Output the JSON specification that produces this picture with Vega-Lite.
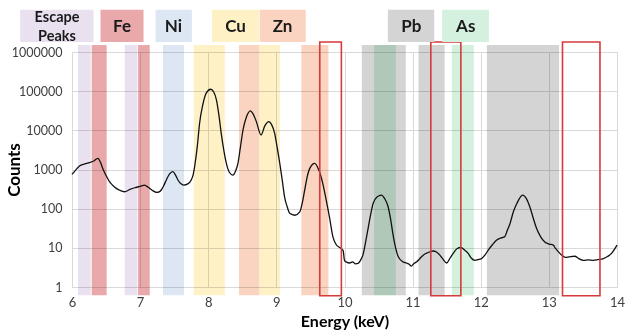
{
  "$schema": "https://vega.github.io/schema/vega-lite/v6.json",
  "width": 545,
  "height": 235,
  "autosize": {"type": "none"},
  "padding": {"left": 72, "top": 52, "right": 8, "bottom": 47},
  "background": "white",
  "config": {"font": "Lato", "view": {"stroke": "#d4d4d4", "strokeWidth": 1}},
  "datasets": {
    "bands": [
      {"el": "Escape", "a": 6.088, "b": 6.274},
      {"el": "Fe", "a": 6.289, "b": 6.509},
      {"el": "Escape", "a": 6.774, "b": 6.959},
      {"el": "Fe", "a": 6.969, "b": 7.141},
      {"el": "Ni", "a": 7.336, "b": 7.645},
      {"el": "Cu", "a": 7.787, "b": 8.242},
      {"el": "Zn", "a": 8.452, "b": 8.746},
      {"el": "Cu", "a": 8.746, "b": 9.054},
      {"el": "Zn", "a": 9.367, "b": 9.764},
      {"el": "Pb", "a": 10.254, "b": 10.9},
      {"el": "As", "a": 10.435, "b": 10.753},
      {"el": "Pb", "a": 11.086, "b": 11.47},
      {"el": "As", "a": 11.575, "b": 11.898},
      {"el": "Pb", "a": 12.09, "b": 13.15}
    ],
    "labels": [
      {"el": "Escape", "a": 5.24, "b": 6.316, "m": 5.78, "t": "Escape\nPeaks"},
      {"el": "Fe", "a": 6.419, "b": 7.05, "m": 6.735, "t": "Fe"},
      {"el": "Ni", "a": 7.227, "b": 7.76, "m": 7.49, "t": "Ni"},
      {"el": "Cu", "a": 8.054, "b": 8.745, "m": 8.4, "t": "Cu"},
      {"el": "Zn", "a": 8.755, "b": 9.431, "m": 9.09, "t": "Zn"},
      {"el": "Pb", "a": 10.636, "b": 11.317, "m": 10.98, "t": "Pb"},
      {"el": "As", "a": 11.433, "b": 12.12, "m": 11.78, "t": "As"}
    ],
    "boxes": [
      {"a": 9.637, "b": 9.954},
      {"a": 11.267, "b": 11.708},
      {"a": 13.2, "b": 13.75}
    ],
    "spectrum": [
      {"keV": 6.0, "counts": 750}, {"keV": 6.05, "counts": 950}, {"keV": 6.11, "counts": 1230},
      {"keV": 6.18, "counts": 1380}, {"keV": 6.257, "counts": 1490}, {"keV": 6.32, "counts": 1650},
      {"keV": 6.38, "counts": 1930}, {"keV": 6.42, "counts": 1500}, {"keV": 6.45, "counts": 1070},
      {"keV": 6.5, "counts": 700}, {"keV": 6.55, "counts": 490}, {"keV": 6.6, "counts": 390},
      {"keV": 6.65, "counts": 330}, {"keV": 6.7, "counts": 295}, {"keV": 6.77, "counts": 270},
      {"keV": 6.85, "counts": 310}, {"keV": 6.92, "counts": 342}, {"keV": 7.0, "counts": 370},
      {"keV": 7.065, "counts": 400}, {"keV": 7.1, "counts": 370}, {"keV": 7.14, "counts": 330},
      {"keV": 7.19, "counts": 285}, {"keV": 7.24, "counts": 262}, {"keV": 7.28, "counts": 270},
      {"keV": 7.31, "counts": 300}, {"keV": 7.35, "counts": 400}, {"keV": 7.385, "counts": 540},
      {"keV": 7.43, "counts": 760}, {"keV": 7.48, "counts": 880}, {"keV": 7.52, "counts": 720},
      {"keV": 7.555, "counts": 540}, {"keV": 7.6, "counts": 430}, {"keV": 7.64, "counts": 400},
      {"keV": 7.7, "counts": 430}, {"keV": 7.75, "counts": 540}, {"keV": 7.78, "counts": 750},
      {"keV": 7.8, "counts": 1180}, {"keV": 7.84, "counts": 4000}, {"keV": 7.873, "counts": 15200},
      {"keV": 7.92, "counts": 45000}, {"keV": 7.97, "counts": 89000}, {"keV": 8.035, "counts": 112000},
      {"keV": 8.08, "counts": 95000}, {"keV": 8.12, "counts": 60000}, {"keV": 8.16, "counts": 22000},
      {"keV": 8.19, "counts": 8500}, {"keV": 8.23, "counts": 3000}, {"keV": 8.266, "counts": 1440},
      {"keV": 8.31, "counts": 850}, {"keV": 8.36, "counts": 720}, {"keV": 8.4, "counts": 900},
      {"keV": 8.436, "counts": 1440}, {"keV": 8.47, "counts": 3500}, {"keV": 8.51, "counts": 10200},
      {"keV": 8.56, "counts": 22000}, {"keV": 8.618, "counts": 31500}, {"keV": 8.66, "counts": 26000},
      {"keV": 8.706, "counts": 16700}, {"keV": 8.775, "counts": 7600}, {"keV": 8.83, "counts": 13000},
      {"keV": 8.89, "counts": 16700}, {"keV": 8.93, "counts": 14000}, {"keV": 8.975, "counts": 8400},
      {"keV": 9.01, "counts": 3800}, {"keV": 9.05, "counts": 1440}, {"keV": 9.085, "counts": 550},
      {"keV": 9.12, "counts": 200}, {"keV": 9.16, "counts": 110}, {"keV": 9.196, "counts": 76},
      {"keV": 9.27, "counts": 68}, {"keV": 9.343, "counts": 83}, {"keV": 9.38, "counts": 140},
      {"keV": 9.416, "counts": 300}, {"keV": 9.45, "counts": 620}, {"keV": 9.49, "counts": 1070},
      {"keV": 9.563, "counts": 1440}, {"keV": 9.62, "counts": 1000}, {"keV": 9.68, "counts": 450},
      {"keV": 9.73, "counts": 170}, {"keV": 9.78, "counts": 60}, {"keV": 9.83, "counts": 19},
      {"keV": 9.88, "counts": 12}, {"keV": 9.93, "counts": 10.2}, {"keV": 9.98, "counts": 8.5},
      {"keV": 10.0, "counts": 4.8}, {"keV": 10.03, "counts": 4.3}, {"keV": 10.077, "counts": 4.1},
      {"keV": 10.12, "counts": 4.4}, {"keV": 10.16, "counts": 3.9}, {"keV": 10.2, "counts": 4.0},
      {"keV": 10.235, "counts": 4.8}, {"keV": 10.27, "counts": 6.5}, {"keV": 10.31, "counts": 14},
      {"keV": 10.35, "counts": 34}, {"keV": 10.39, "counts": 80}, {"keV": 10.42, "counts": 136},
      {"keV": 10.48, "counts": 200}, {"keV": 10.54, "counts": 222}, {"keV": 10.59, "counts": 180},
      {"keV": 10.64, "counts": 112}, {"keV": 10.68, "counts": 50}, {"keV": 10.71, "counts": 23},
      {"keV": 10.75, "counts": 10}, {"keV": 10.79, "counts": 5.9}, {"keV": 10.85, "counts": 4.5},
      {"keV": 10.91, "counts": 4.1}, {"keV": 10.95, "counts": 3.8}, {"keV": 10.98, "counts": 3.4},
      {"keV": 11.02, "counts": 4.0}, {"keV": 11.06, "counts": 4.4}, {"keV": 11.1, "counts": 5.2},
      {"keV": 11.155, "counts": 6.5}, {"keV": 11.22, "counts": 7.5}, {"keV": 11.3, "counts": 8.3},
      {"keV": 11.35, "counts": 7.8}, {"keV": 11.4, "counts": 6.5}, {"keV": 11.45, "counts": 5.0},
      {"keV": 11.5, "counts": 4.1}, {"keV": 11.55, "counts": 5.5}, {"keV": 11.595, "counts": 7.2},
      {"keV": 11.65, "counts": 9.5}, {"keV": 11.71, "counts": 10.2}, {"keV": 11.76, "counts": 8.8},
      {"keV": 11.815, "counts": 7.2}, {"keV": 11.86, "counts": 5.5}, {"keV": 11.914, "counts": 4.8},
      {"keV": 11.96, "counts": 5.0}, {"keV": 12.01, "counts": 5.3}, {"keV": 12.06, "counts": 6.5},
      {"keV": 12.11, "counts": 8.7}, {"keV": 12.17, "counts": 12}, {"keV": 12.23, "counts": 15.7},
      {"keV": 12.3, "counts": 18}, {"keV": 12.35, "counts": 19}, {"keV": 12.39, "counts": 28},
      {"keV": 12.43, "counts": 42}, {"keV": 12.48, "counts": 85}, {"keV": 12.53, "counts": 136},
      {"keV": 12.615, "counts": 222}, {"keV": 12.67, "counts": 180}, {"keV": 12.72, "counts": 112},
      {"keV": 12.77, "counts": 58}, {"keV": 12.82, "counts": 31}, {"keV": 12.88, "counts": 19},
      {"keV": 12.94, "counts": 14}, {"keV": 13.0, "counts": 12.5}, {"keV": 13.065, "counts": 11.7},
      {"keV": 13.1, "counts": 9.5}, {"keV": 13.14, "counts": 7.9}, {"keV": 13.19, "counts": 6.5},
      {"keV": 13.24, "counts": 5.7}, {"keV": 13.3, "counts": 5.9}, {"keV": 13.38, "counts": 6.1},
      {"keV": 13.44, "counts": 5.3}, {"keV": 13.505, "counts": 4.8}, {"keV": 13.58, "counts": 4.9},
      {"keV": 13.65, "counts": 4.8}, {"keV": 13.72, "counts": 5.0}, {"keV": 13.8, "counts": 5.3},
      {"keV": 13.86, "counts": 6.0}, {"keV": 13.92, "counts": 7.2}, {"keV": 13.96, "counts": 9.0},
      {"keV": 14.0, "counts": 11.7}
    ]
  },
  "layer": [
    {
      "data": {"name": "bands"},
      "mark": {"type": "rect", "clip": false, "blend": "multiply"},
      "encoding": {
        "x": {"field": "a", "type": "quantitative"},
        "x2": {"field": "b"},
        "y": {"datum": 0.613, "type": "quantitative"},
        "y2": {"datum": 1520000},
        "color": {"field": "el", "type": "nominal", "legend": null,
          "scale": {"domain": ["Escape", "Fe", "Ni", "Cu", "Zn", "Pb", "As"],
            "range": ["#e9e1f0", "#e9a9ab", "#dde7f4", "#fef1c6", "#fad4c0", "#d4d4d4", "#d4f1df"]}}
      }
    },
    {
      "data": {"name": "spectrum"},
      "mark": {"type": "line", "color": "#111111", "strokeWidth": 1.3, "interpolate": "monotone"},
      "encoding": {
        "x": {"field": "keV", "type": "quantitative",
          "scale": {"type": "linear", "domain": [6, 14], "nice": false, "zero": false},
          "axis": {"values": [6, 7, 8, 9, 10, 11, 12, 13, 14], "format": "d", "title": "Energy (keV)", "grid": true,
            "gridColor": "#d9d9d9", "ticks": false, "domain": false, "labelColor": "#404040", "labelFlush": false,
            "labelFontSize": 13, "labelPadding": 9, "titleFontSize": 16, "titleFontWeight": "bold",
            "titleColor": "#000000", "titlePadding": 4}},
        "y": {"field": "counts", "type": "quantitative",
          "scale": {"type": "log", "domain": [1, 1000000], "nice": false},
          "axis": {"values": [1, 10, 100, 1000, 10000, 100000, 1000000], "format": "d", "title": "Counts",
            "grid": true, "gridColor": "#d9d9d9", "ticks": false, "domain": false, "labelColor": "#404040",
            "labelFlush": false, "labelFontSize": 12.5, "labelPadding": 10, "titleFontSize": 17, "titleFontWeight": "bold",
            "titleColor": "#000000", "titlePadding": -12}}
      }
    },
    {
      "data": {"name": "boxes"},
      "mark": {"type": "rect", "clip": false, "fillOpacity": 0, "stroke": "#d63a3a", "strokeWidth": 1.6},
      "encoding": {
        "x": {"field": "a", "type": "quantitative"},
        "x2": {"field": "b"},
        "y": {"datum": 0.6, "type": "quantitative"},
        "y2": {"datum": 1800000}
      }
    },
    {
      "data": {"name": "labels"},
      "mark": {"type": "rect", "clip": false},
      "encoding": {
        "x": {"field": "a", "type": "quantitative"},
        "x2": {"field": "b"},
        "y": {"datum": 1800000, "type": "quantitative"},
        "y2": {"datum": 12000000},
        "color": {"field": "el", "type": "nominal", "legend": null}
      }
    },
    {
      "data": {"name": "labels"},
      "transform": [{"filter": "datum.el !== 'Escape'"}],
      "mark": {"type": "text", "clip": false, "fontSize": 17, "fontWeight": "bold", "color": "#1a1a1a", "baseline": "middle"},
      "encoding": {
        "x": {"field": "m", "type": "quantitative"},
        "y": {"datum": 4400000, "type": "quantitative"},
        "text": {"field": "t"}
      }
    },
    {
      "data": {"name": "labels"},
      "transform": [{"filter": "datum.el === 'Escape'"}],
      "mark": {"type": "text", "clip": false, "fontSize": 14.5, "fontWeight": "bold", "color": "#1a1a1a",
        "baseline": "middle", "lineBreak": "\n", "lineHeight": 19, "dy": -9},
      "encoding": {
        "x": {"field": "m", "type": "quantitative"},
        "y": {"datum": 4400000, "type": "quantitative"},
        "text": {"field": "t"}
      }
    }
  ]
}
